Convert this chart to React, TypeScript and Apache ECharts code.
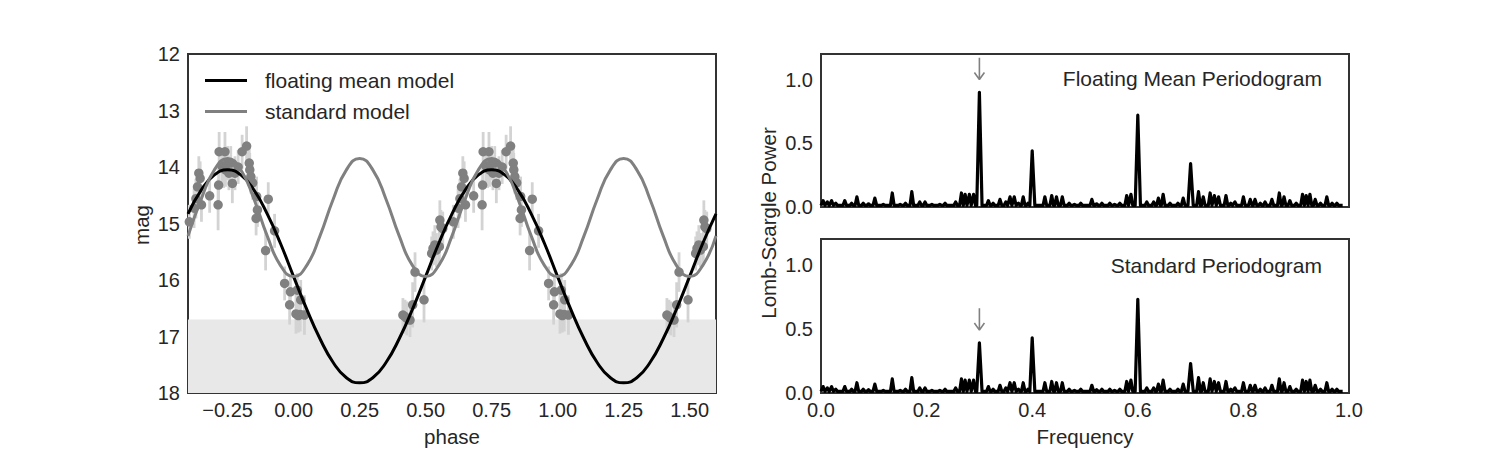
import React, { useEffect, useRef } from "react";
import * as echarts from "echarts";

const FONT = "'Liberation Sans', Arial, Helvetica, sans-serif";
const TEXT = "#262626";
const FRAME = "#333333";

// Model curves sampled on the phase grid
const modelPhase = [
  -0.4, -0.35, -0.3, -0.25, -0.2, -0.15, -0.1, -0.05, 0.0, 0.05, 0.1, 0.15, 0.2, 0.25,
  0.3, 0.35, 0.4, 0.45, 0.5, 0.55, 0.6, 0.65, 0.7, 0.75, 0.8, 0.85, 0.9, 0.95, 1.0,
  1.05, 1.1, 1.15, 1.2, 1.25, 1.3, 1.35, 1.4, 1.45, 1.5, 1.55, 1.6,
];
const floatingMeanModel = [
  14.83, 14.41, 14.14, 14.05, 14.14, 14.41, 14.83, 15.35, 15.94, 16.52, 17.04, 17.46,
  17.73, 17.82, 17.73, 17.46, 17.04, 16.52, 15.94, 15.35, 14.83, 14.41, 14.14, 14.05,
  14.14, 14.41, 14.83, 15.35, 15.94, 16.52, 17.04, 17.46, 17.73, 17.82, 17.73, 17.46,
  17.04, 16.52, 15.94, 15.35, 14.83,
];
const standardModel = [
  15.22, 14.57, 14.05, 13.85, 14.05, 14.57, 15.22, 15.74, 15.94, 15.74, 15.22, 14.57,
  14.05, 13.85, 14.05, 14.57, 15.22, 15.74, 15.94, 15.74, 15.22, 14.57, 14.05, 13.85,
  14.05, 14.57, 15.22, 15.74, 15.94, 15.74, 15.22, 14.57, 14.05, 13.85, 14.05, 14.57,
  15.22, 15.74, 15.94, 15.74, 15.22,
];

// Folded observations (phase in [0, 1)), magnitudes and uncertainties
const obsPhase = [
  0.009, 0.014, 0.018, 0.025, 0.027, 0.041, 0.414, 0.422, 0.429, 0.441, 0.451, 0.46, 0.494,
  0.523, 0.528, 0.535, 0.541, 0.552, 0.554, 0.558, 0.565, 0.605, 0.623, 0.63, 0.636, 0.641,
  0.646, 0.651, 0.682, 0.714, 0.716, 0.718, 0.74, 0.742, 0.75, 0.755, 0.762, 0.768, 0.778,
  0.805, 0.822, 0.832, 0.834, 0.838, 0.845, 0.86, 0.863, 0.858, 0.894, 0.904, 0.928, 0.966,
  0.985, 0.988, 0.728, 0.735, 0.79,
];
const obsMag = [
  16.6, 16.18, 16.63, 16.61, 16.35, 16.62, 16.62, 16.65, 16.68, 16.71, 16.44, 15.86, 16.35,
  15.53, 15.44, 15.38, 15.47, 15.41, 14.94, 15.06, 15.09, 14.97, 14.73, 14.56, 14.35, 14.11,
  14.2, 14.67, 14.51, 14.67, 14.32, 13.73, 13.73, 14.05, 13.93, 14.11, 13.93, 14.29, 14.11,
  13.73, 13.63, 13.93, 14.05, 14.17, 14.28, 14.52, 14.76, 14.91, 15.48, 14.57, 15.13, 16.06,
  16.44, 16.21, 13.98, 14.02, 14.0,
];
const obsErr = [
  0.35, 0.3, 0.3, 0.3, 0.35, 0.35, 0.3, 0.3, 0.3, 0.3, 0.4, 0.35, 0.4, 0.3, 0.3, 0.35, 0.3,
  0.3, 0.35, 0.3, 0.3, 0.3, 0.35, 0.35, 0.3, 0.3, 0.3, 0.3, 0.3, 0.45, 0.35, 0.35, 0.35, 0.3,
  0.3, 0.3, 0.3, 0.35, 0.3, 0.3, 0.35, 0.3, 0.3, 0.3, 0.3, 0.35, 0.3, 0.3, 0.35, 0.3, 0.3,
  0.3, 0.35, 0.3, 0.3, 0.35, 0.3,
];
const detectionLimit = 16.7;

// Periodogram: small noise bumps shared by both, plus the main peaks
const noiseBumps: [number, number][] = [
  [0.004, 0.05], [0.012, 0.04], [0.02, 0.05], [0.028, 0.03], [0.045, 0.05], [0.058, 0.03],
  [0.068, 0.08], [0.08, 0.03], [0.09, 0.025], [0.102, 0.07], [0.118, 0.02], [0.135, 0.11],
  [0.15, 0.02], [0.16, 0.03], [0.172, 0.12], [0.187, 0.04], [0.197, 0.04], [0.21, 0.02],
  [0.225, 0.02], [0.235, 0.03], [0.255, 0.04], [0.266, 0.11], [0.273, 0.1], [0.281, 0.1],
  [0.289, 0.1], [0.317, 0.05], [0.326, 0.03], [0.339, 0.06], [0.35, 0.04], [0.358, 0.08],
  [0.366, 0.08], [0.374, 0.03], [0.383, 0.08], [0.392, 0.03], [0.424, 0.08], [0.437, 0.09],
  [0.446, 0.08], [0.457, 0.08], [0.47, 0.03], [0.48, 0.02], [0.492, 0.03], [0.513, 0.06],
  [0.522, 0.025], [0.532, 0.03], [0.547, 0.03], [0.556, 0.02], [0.566, 0.03], [0.579, 0.09],
  [0.587, 0.1], [0.617, 0.04], [0.63, 0.04], [0.639, 0.07], [0.648, 0.1], [0.661, 0.03],
  [0.676, 0.03], [0.686, 0.07], [0.715, 0.12], [0.724, 0.08], [0.737, 0.11], [0.745, 0.09],
  [0.753, 0.08], [0.767, 0.09], [0.776, 0.03], [0.784, 0.04], [0.8, 0.08], [0.813, 0.06],
  [0.822, 0.06], [0.832, 0.03], [0.841, 0.04], [0.854, 0.06], [0.868, 0.11], [0.877, 0.08],
  [0.888, 0.05], [0.9, 0.03], [0.912, 0.1], [0.919, 0.09], [0.926, 0.1], [0.936, 0.06],
  [0.946, 0.03], [0.958, 0.08], [0.968, 0.03], [0.977, 0.03],
];
const floatingPeaks: [number, number][] = [[0.3, 0.9], [0.4, 0.44], [0.6, 0.72], [0.7, 0.34]];
const standardPeaks: [number, number][] = [[0.3, 0.39], [0.4, 0.43], [0.6, 0.73], [0.7, 0.23]];
const powerBase = 0.012;
const freqEnd = 0.988;

// Arrow marking the true frequency, placed just above its peak in each panel
const arrowFreq = 0.3;
const arrowTips = [1.0, 0.49];
const arrowLength = 0.17;

function periodogram(peaks: [number, number][]): number[][] {
  const bumps = [
    ...noiseBumps.map(([f, h]) => ({ f, h, w: 0.0035 })),
    ...peaks.map(([f, h]) => ({ f, h, w: 0.005 })),
  ].sort((a, b) => a.f - b.f);
  const pts: number[][] = [[0, powerBase]];
  for (const b of bumps) {
    pts.push([b.f - b.w, powerBase], [b.f, b.h], [b.f + b.w, powerBase]);
  }
  pts.push([freqEnd, powerBase]);
  return pts;
}

function arrow(tip: number): number[][] {
  const dx = 0.0095;
  const dy = 0.055;
  return [
    [arrowFreq, tip + arrowLength],
    [arrowFreq, tip],
    [arrowFreq - dx, tip + dy],
    [arrowFreq, tip],
    [arrowFreq + dx, tip + dy],
  ];
}

function foldedCopies(): number[][] {
  const out: number[][] = [];
  for (let i = 0; i < obsPhase.length; i++) {
    for (const k of [-1, 0, 1]) {
      const p = obsPhase[i] + k;
      if (p >= -0.4 && p <= 1.6) out.push([p, obsMag[i], obsErr[i]]);
    }
  }
  return out;
}

export default function App() {
  const ref = useRef<HTMLDivElement>(null);

  useEffect(() => {
    const chart = echarts.init(ref.current!, null, { renderer: "svg" });
    const obs = foldedCopies();
    const labelStyle = { color: TEXT, fontSize: 20, fontFamily: FONT };
    const bigStyle = { color: TEXT, fontSize: 21, fontFamily: FONT };
    const nameFont = `20.5px ${FONT}`;
    const gridBase = { show: true, borderColor: FRAME, borderWidth: 2, backgroundColor: "transparent" };

    chart.setOption({
      animation: false,
      backgroundColor: "#ffffff",
      textStyle: { fontFamily: FONT },
      grid: [
        { ...gridBase, left: 188, top: 54, width: 528, height: 339 },
        { ...gridBase, left: 821, top: 54, width: 528, height: 153 },
        { ...gridBase, left: 821, top: 239, width: 528, height: 154 },
      ],
      xAxis: [
        {
          type: "value", gridIndex: 0, min: -0.4, max: 1.6,
          axisLine: { show: false }, axisTick: { show: false }, splitLine: { show: false },
          axisLabel: {
            ...labelStyle, margin: 7,
            customValues: [-0.25, 0, 0.25, 0.5, 0.75, 1, 1.25, 1.5],
            formatter: (v: number) => (v < 0 ? "\u2212" : "") + Math.abs(v).toFixed(2),
          },
        },
        {
          type: "value", gridIndex: 1, min: 0, max: 1, interval: 0.2,
          axisLine: { show: false }, axisTick: { show: false }, splitLine: { show: false },
          axisLabel: { show: false },
        },
        {
          type: "value", gridIndex: 2, min: 0, max: 1, interval: 0.2,
          axisLine: { show: false }, axisTick: { show: false }, splitLine: { show: false },
          axisLabel: { ...labelStyle, margin: 7, formatter: (v: number) => v.toFixed(1) },
        },
      ],
      yAxis: [
        {
          type: "value", gridIndex: 0, min: 12, max: 18, interval: 1, inverse: true,
          axisLine: { show: false }, axisTick: { show: false }, splitLine: { show: false },
          axisLabel: { ...labelStyle, margin: 8 },
        },
        {
          type: "value", gridIndex: 1, min: 0, max: 1.2,
          axisLine: { show: false }, axisTick: { show: false }, splitLine: { show: false },
          axisLabel: { ...labelStyle, margin: 8, customValues: [0, 0.5, 1], formatter: (v: number) => v.toFixed(1) },
        },
        {
          type: "value", gridIndex: 2, min: 0, max: 1.2,
          axisLine: { show: false }, axisTick: { show: false }, splitLine: { show: false },
          axisLabel: { ...labelStyle, margin: 8, customValues: [0, 0.5, 1], formatter: (v: number) => v.toFixed(1) },
        },
      ],
      legend: {
        data: ["floating mean model", "standard model"],
        orient: "vertical",
        left: 205, top: 70,
        padding: 0,
        itemWidth: 42, itemHeight: 3, itemGap: 10,
        icon: "rect",
        textStyle: { ...bigStyle, padding: [0, 0, 0, 13] },
      },
      title: [
        {
          text: "Floating Mean Periodogram", right: 178, top: 68, padding: 0,
          textStyle: { ...bigStyle, fontWeight: "normal" },
        },
        {
          text: "Standard Periodogram", right: 178, top: 255, padding: 0,
          textStyle: { ...bigStyle, fontWeight: "normal" },
        },
      ],
      graphic: [
        { type: "text", x: 452, y: 436, style: { text: "phase", fill: TEXT, font: nameFont, textAlign: "center", textVerticalAlign: "middle" } },
        { type: "text", x: 1085, y: 436, style: { text: "Frequency", fill: TEXT, font: nameFont, textAlign: "center", textVerticalAlign: "middle" } },
        { type: "text", x: 141, y: 225, rotation: Math.PI / 2, style: { text: "mag", fill: TEXT, font: nameFont, textAlign: "center", textVerticalAlign: "middle" } },
        { type: "text", x: 768, y: 223, rotation: Math.PI / 2, style: { text: "Lomb-Scargle Power", fill: TEXT, font: nameFont, textAlign: "center", textVerticalAlign: "middle" } },
      ],
      series: [
        {
          name: "limit", type: "line", xAxisIndex: 0, yAxisIndex: 0, data: [], silent: true, z: 0,
          markArea: {
            silent: true,
            itemStyle: { color: "#e8e8e8" },
            data: [[{ yAxis: detectionLimit }, { yAxis: 18 }]],
          },
        },
        {
          name: "errors", type: "custom", xAxisIndex: 0, yAxisIndex: 0, data: obs, silent: true, z: 1,
          renderItem: (_params: any, api: any) => {
            const x = api.value(0), y = api.value(1), e = api.value(2);
            const a = api.coord([x, y - e]);
            const b = api.coord([x, y + e]);
            return {
              type: "line",
              shape: { x1: a[0], y1: a[1], x2: b[0], y2: b[1] },
              style: { stroke: "#d3d3d3", lineWidth: 2.8 },
            };
          },
        },
        {
          name: "observations", type: "scatter", xAxisIndex: 0, yAxisIndex: 0, silent: true, z: 2,
          data: obs.map((d) => [d[0], d[1]]), symbolSize: 9.5,
          itemStyle: { color: "#808080", opacity: 1 },
        },
        {
          name: "floating mean model", type: "line", xAxisIndex: 0, yAxisIndex: 0, z: 3,
          data: modelPhase.map((p, i) => [p, floatingMeanModel[i]]),
          smooth: true, showSymbol: false, silent: true,
          lineStyle: { color: "#000000", width: 3 }, itemStyle: { color: "#000000" },
        },
        {
          name: "standard model", type: "line", xAxisIndex: 0, yAxisIndex: 0, z: 4,
          data: modelPhase.map((p, i) => [p, standardModel[i]]),
          smooth: true, showSymbol: false, silent: true,
          lineStyle: { color: "#808080", width: 3 }, itemStyle: { color: "#808080" },
        },
        {
          name: "floating periodogram", type: "line", xAxisIndex: 1, yAxisIndex: 1,
          data: periodogram(floatingPeaks), showSymbol: false, silent: true,
          lineStyle: { color: "#000000", width: 3.2, join: "round" },
        },
        {
          name: "standard periodogram", type: "line", xAxisIndex: 2, yAxisIndex: 2,
          data: periodogram(standardPeaks), showSymbol: false, silent: true,
          lineStyle: { color: "#000000", width: 3.2, join: "round" },
        },
        {
          name: "arrow top", type: "line", xAxisIndex: 1, yAxisIndex: 1,
          data: arrow(arrowTips[0]), showSymbol: false, silent: true,
          lineStyle: { color: "#808080", width: 1.6 },
        },
        {
          name: "arrow bottom", type: "line", xAxisIndex: 2, yAxisIndex: 2,
          data: arrow(arrowTips[1]), showSymbol: false, silent: true,
          lineStyle: { color: "#808080", width: 1.6 },
        },
      ],
    });
    return () => chart.dispose();
  }, []);

  return (
    <div
      ref={ref}
      style={{ position: "fixed", left: 0, top: 0, width: 1500, height: 450, background: "#fff" }}
    />
  );
}
